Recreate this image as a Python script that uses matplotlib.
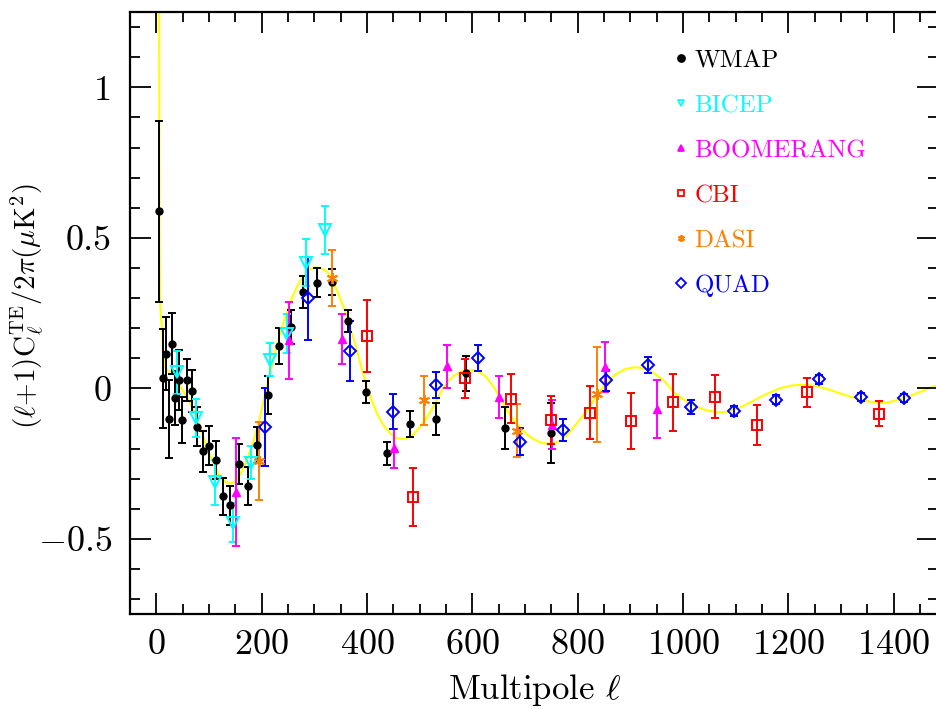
import matplotlib
matplotlib.use("Agg")
import matplotlib.pyplot as plt
from matplotlib.lines import Line2D

plt.rcParams['font.family'] = ['cmr10', 'DejaVu Serif']
plt.rcParams['mathtext.fontset'] = 'cm'
plt.rcParams['axes.formatter.use_mathtext'] = True

# WMAP
wmap_l = [6, 12, 18, 24, 29, 35, 43, 49, 58, 67, 78, 89, 100, 113, 127, 140, 157, 174, 192, 212,
          233, 255, 279, 305, 333, 364, 398, 437, 481, 531, 588, 661, 750]
wmap_v = [0.588, 0.034, 0.116, -0.101, 0.149, -0.031, 0.027, -0.104, 0.029, -0.009, -0.127, -0.209,
          -0.19, -0.237, -0.358, -0.388, -0.251, -0.324, -0.188, -0.022, 0.141, 0.204, 0.319, 0.351,
          0.354, 0.224, -0.012, -0.216, -0.118, -0.103, 0.051, -0.131, -0.148]
wmap_e = [0.30, 0.165, 0.12, 0.13, 0.10, 0.09, 0.10, 0.077, 0.07, 0.07, 0.065, 0.067, 0.065, 0.064,
          0.062, 0.064, 0.066, 0.062, 0.06, 0.062, 0.06, 0.055, 0.053, 0.048, 0.043, 0.038, 0.036,
          0.038, 0.044, 0.053, 0.058, 0.07, 0.10]

# BICEP
bicep_l = [40, 75, 111, 145, 180, 216, 249, 285, 320]
bicep_v = [0.054, -0.098, -0.312, -0.446, -0.246, 0.096, 0.182, 0.418, 0.527]
bicep_e = [0.071, 0.064, 0.074, 0.065, 0.055, 0.055, 0.064, 0.077, 0.08]

# BOOMERANG
boom_l = [152, 252, 352, 451, 551, 651, 751, 851, 951]
boom_v = [-0.343, 0.16, 0.163, -0.199, 0.073, -0.029, -0.12, 0.071, -0.067]
boom_e = [0.18, 0.128, 0.083, 0.065, 0.072, 0.07, 0.082, 0.082, 0.096]

# CBI
cbi_l = [399, 488, 586, 674, 750, 824, 901, 981, 1061, 1140, 1236, 1372]
cbi_v = [0.173, -0.36, 0.034, -0.034, -0.104, -0.08, -0.108, -0.046, -0.027, -0.121, -0.012, -0.084]
cbi_e = [0.12, 0.097, 0.065, 0.082, 0.08, 0.087, 0.093, 0.094, 0.07, 0.067, 0.048, 0.042]

# DASI
dasi_l = [194, 334, 509, 685, 837]
dasi_v = [-0.24, 0.366, -0.04, -0.14, -0.02]
dasi_e = [0.13, 0.093, 0.081, 0.089, 0.157]

# QUAD
quad_l = [206, 287, 367, 449, 530, 610, 690, 772, 853, 933, 1015, 1096, 1176, 1259, 1338, 1420]
quad_v = [-0.127, 0.299, 0.124, -0.077, 0.012, 0.101, -0.177, -0.137, 0.027, 0.077, -0.062, -0.075,
          -0.037, 0.03, -0.029, -0.031]
quad_e = [0.13, 0.137, 0.099, 0.058, 0.043, 0.042, 0.045, 0.036, 0.035, 0.026, 0.022, 0.018, 0.014,
          0.014, 0.014, 0.014]

# model curve
curve_l = [2, 5, 6, 7, 9, 11, 13, 15, 17, 21, 27, 33, 40, 46, 54, 62, 70, 78, 88, 97, 105, 112, 118,
           125, 132, 138, 144, 150, 158, 166, 175, 185, 195, 204, 213, 223, 234, 245, 255, 265, 274,
           287, 299, 312, 324, 334, 343, 352, 362, 371, 381, 390, 400, 410, 419, 432, 445, 456, 467,
           478, 489, 502, 514, 527, 539, 552, 565, 580, 596, 610, 625, 641, 654, 666, 678, 691, 703,
           716, 730, 745, 756, 767, 780, 792, 805, 818, 830, 843, 859, 875, 890, 906, 919, 932, 945,
           957, 967, 982, 998, 1014, 1030, 1045, 1058, 1071, 1084, 1096, 1112, 1128, 1143, 1159, 1175,
           1191, 1207, 1223, 1238, 1254, 1270, 1286, 1301, 1317, 1333, 1349, 1362, 1375, 1388, 1400,
           1412, 1425, 1441, 1457, 1470, 1484]
curve_v = [3.0, 1.6, 0.5, 0.29, 0.23, 0.2, 0.12, 0.085, 0.07, 0.06, 0.053, 0.049, 0.03, 0.004, -0.018,
           -0.04, -0.07, -0.107, -0.155, -0.2, -0.235, -0.262, -0.283, -0.3, -0.311, -0.316, -0.315,
           -0.307, -0.29, -0.262, -0.222, -0.173, -0.108, -0.04, 0.03, 0.104, 0.175, 0.238, 0.29, 0.33,
           0.36, 0.39, 0.402, 0.4, 0.388, 0.36, 0.325, 0.285, 0.238, 0.185, 0.127, 0.065, 0.004, -0.045,
           -0.084, -0.125, -0.151, -0.165, -0.168, -0.163, -0.151, -0.125, -0.096, -0.058, -0.015,
           0.02, 0.042, 0.056, 0.062, 0.058, 0.04, 0.004, -0.035, -0.073, -0.104, -0.129, -0.152,
           -0.168, -0.18, -0.184, -0.181, -0.173, -0.155, -0.129, -0.102, -0.073, -0.04, -0.007, 0.028,
           0.05, 0.064, 0.07, 0.069, 0.062, 0.05, 0.035, 0.02, -0.012, -0.033, -0.051, -0.064, -0.073,
           -0.077, -0.079, -0.077, -0.071, -0.06, -0.046, -0.032, -0.018, -0.006, 0.004, 0.01, 0.012,
           0.011, 0.007, 0.0, -0.009, -0.018, -0.027, -0.036, -0.042, -0.046, -0.048, -0.047, -0.042,
           -0.036, -0.029, -0.018, -0.007, 0.003, 0.011]

fig = plt.figure(figsize=(9.37, 7.09), dpi=100)
# right spine sits just past the picture edge, like the original crop
ax = fig.add_axes([130 / 937, 94.7 / 709, 808 / 937, 602.3 / 709])

ax.plot(curve_l, curve_v, color='#ffff00', lw=1.5, zorder=1)

eb = dict(linestyle='none', elinewidth=1.4, capsize=3, capthick=1.4, zorder=3)
ax.errorbar(wmap_l, wmap_v, yerr=wmap_e, marker='o', ms=5, color='black', **eb)
ax.errorbar(bicep_l, bicep_v, yerr=bicep_e, marker='v', ms=8, color='#00ffff', mfc='none', mew=1.4, **eb)
ax.errorbar(boom_l, boom_v, yerr=boom_e, marker='^', ms=6, color='#ff00ff', **eb)
ax.errorbar(cbi_l, cbi_v, yerr=cbi_e, marker='s', ms=6.5, color='#ff0000', mfc='none', mew=1.4, **eb)
ax.errorbar(dasi_l, dasi_v, yerr=dasi_e, marker=(6, 2, 0), ms=8, color='#ff8000', mew=1.4, **eb)
ax.errorbar(quad_l, quad_v, yerr=quad_e, marker='D', ms=6.5, color='#0000ff', mfc='none', mew=1.4, **eb)

ax.set_xlim(-50, 1484)
ax.set_ylim(-0.75, 1.25)
ax.set_xticks(range(0, 1401, 200))
ax.set_xticks(range(-50, 1484, 50), minor=True)
ax.set_yticks([-0.5, 0, 0.5, 1])
ax.set_yticks([i / 10 for i in range(-7, 13)], minor=True)
ax.set_yticklabels([r'$-$0.5', '0', '0.5', '1'])
ax.tick_params(which='both', direction='in', top=True, right=True, labelsize=26, width=1.3)
ax.tick_params(axis='x', pad=11)
ax.tick_params(axis='y', pad=13)
ax.tick_params(which='major', length=15)
ax.tick_params(which='minor', length=7)
for s in ax.spines.values():
    s.set_linewidth(1.6)

ax.set_xlabel(r'Multipole $\ell$', fontsize=25, labelpad=8)
ax.set_ylabel(r'$(\ell{+}1)\mathrm{C}_\ell^{\mathrm{TE}}/2\pi(\mu\mathrm{K}^2)$', fontsize=21)
ax.yaxis.set_label_coords(-0.104, 0.512)

names = ['WMAP', 'BICEP', 'BOOMERANG', 'CBI', 'DASI', 'QUAD']
colors = ['black', '#00ffff', '#ff00ff', '#ff0000', '#ff8000', '#0000ff']
markers = ['o', 'v', '^', 's', (6, 2, 0), 'D']
fills = [True, False, True, False, True, False]
handles = []
for c, m, f in zip(colors, markers, fills):
    handles.append(Line2D([], [], linestyle='none', marker=m, color=c, ms=5,
                          mfc=c if f else 'none', mew=1.3))
leg = ax.legend(handles, names, loc='upper left', bbox_to_anchor=(0.64, 0.975), frameon=False,
                fontsize=18, labelspacing=0.9, handletextpad=0.1, handlelength=0.9,
                labelcolor=colors)

fig.savefig('out.png', dpi=100)
